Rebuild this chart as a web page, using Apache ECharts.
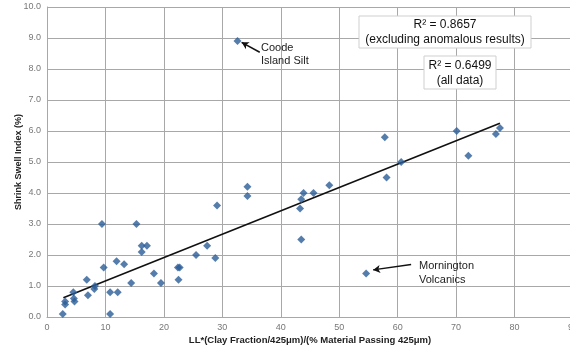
<!DOCTYPE html>
<html><head><meta charset="utf-8">
<script src="https://cdn.jsdelivr.net/npm/echarts@6/dist/echarts.min.js"></script>
<style>html,body{margin:0;padding:0;background:#fff}#c{width:570px;height:349px}</style>
</head><body><div id="c"></div>
<script>
var xTitle = 'LL*(Clay Fraction/425μm)/(% Material Passing 425μm)';
var yTitle = 'Shrink Swell Index (%)';
var xVals = [2.7, 3.1, 3.1, 4.5, 4.6, 4.7, 6.8, 7.0, 8.1, 8.2, 9.4, 9.7, 10.8, 10.8, 11.9, 12.1, 13.2, 14.4, 15.3, 16.2, 16.2, 17.1, 18.3, 19.5, 22.4, 22.7, 22.5, 25.5, 27.4, 28.8, 29.1, 34.3, 34.3, 43.3, 43.5, 43.9, 43.5, 45.6, 48.3, 54.6, 58.1, 57.8, 60.6, 70.1, 72.1, 76.8, 77.5, 32.6];
var yVals = [0.1, 0.5, 0.4, 0.8, 0.6, 0.5, 1.2, 0.7, 0.9, 1.0, 3.0, 1.6, 0.8, 0.1, 1.8, 0.8, 1.7, 1.1, 3.0, 2.3, 2.1, 2.3, 1.4, 1.1, 1.6, 1.6, 1.2, 2.0, 2.3, 1.9, 3.6, 4.2, 3.9, 3.5, 3.8, 4.0, 2.5, 4.0, 4.25, 1.4, 4.5, 5.8, 5.0, 6.0, 5.2, 5.9, 6.1, 8.9];
var trendX = [2.8, 77.5];
var trendY = [0.62, 6.25];
var coodeArrow = [[36.4, 8.54], [33.3, 8.86]];
var morningtonArrow = [[62.3, 1.69], [55.8, 1.52]];
var r2a = ['R² = 0.8657', '(excluding anomalous results)'];
var r2b = ['R² = 0.6499', '(all data)'];

var pts = xVals.map(function (x, i) { return [x, yVals[i]]; });
var trend = trendX.map(function (x, i) { return [x, trendY[i]]; });
var font = 'Liberation Sans, Arial, sans-serif';
var chart = echarts.init(document.getElementById('c'));
chart.setOption({
  animation: false,
  grid: { left: 47, top: 7, width: 526, height: 310, containLabel: false, outerBoundsMode: 'none' },
  xAxis: {
    type: 'value', min: 0, max: 90, interval: 10,
    name: xTitle, nameLocation: 'middle', nameGap: 18, nameMoveOverlap: false,
    nameTextStyle: { fontFamily: font, fontWeight: 'bold', fontSize: 9.5, color: '#222' },
    axisLine: { show: true, lineStyle: { color: '#a8a8a8' } },
    axisTick: { show: false },
    axisLabel: { fontFamily: font, fontSize: 9, color: '#777', margin: 6 },
    splitLine: { show: true, lineStyle: { color: '#a8a8a8', width: 1 } }
  },
  yAxis: {
    type: 'value', min: 0, max: 10, interval: 1,
    name: yTitle, nameLocation: 'middle', nameGap: 24, nameMoveOverlap: false,
    nameTextStyle: { fontFamily: font, fontWeight: 'bold', fontSize: 9, color: '#222' },
    axisLine: { show: true, lineStyle: { color: '#a8a8a8' } },
    axisTick: { show: false },
    axisLabel: { fontFamily: font, fontSize: 9, color: '#777', margin: 6,
      formatter: function (v) { return v.toFixed(1); } },
    splitLine: { show: true, lineStyle: { color: '#a8a8a8', width: 1 } }
  },
  series: [
    { type: 'line', data: trend, symbol: 'none', silent: true,
      lineStyle: { color: '#111', width: 1.6 }, z: 3 },
    { type: 'scatter', data: pts, symbol: 'diamond', symbolSize: 8,
      itemStyle: { color: '#2b5c97' }, z: 4 },
    { type: 'line', data: [], silent: true,
      markLine: { silent: true, symbol: ['none', 'arrow'], symbolSize: [6, 7],
        lineStyle: { color: '#111', width: 1.5, type: 'solid' }, label: { show: false },
        data: [
          [{ coord: coodeArrow[0] }, { coord: coodeArrow[1] }],
          [{ coord: morningtonArrow[0] }, { coord: morningtonArrow[1] }]
        ] } }
  ],
  graphic: [
    { type: 'text', z: 100, left: 261, top: 41, style: { text: 'Coode\nIsland Silt', font: '11px ' + font, fill: '#222', lineHeight: 13 } },
    { type: 'text', z: 100, left: 419, top: 259, style: { text: 'Mornington\nVolcanics', font: '11px ' + font, fill: '#222', lineHeight: 14 } },
    { type: 'rect', z: 100, shape: { x: 359, y: 16, width: 172, height: 32 }, style: { fill: '#fff', stroke: '#cfcfcf', lineWidth: 1 } },
    { type: 'text', z: 101, x: 445, y: 17, style: { text: r2a.join('\n'), align: 'center', font: '12px ' + font, fill: '#111', lineHeight: 15 } },
    { type: 'rect', z: 100, shape: { x: 424, y: 56, width: 72, height: 33 }, style: { fill: '#fff', stroke: '#cfcfcf', lineWidth: 1 } },
    { type: 'text', z: 101, x: 460, y: 58, style: { text: r2b.join('\n'), align: 'center', font: '12px ' + font, fill: '#111', lineHeight: 15 } }
  ]
});
</script></body></html>
